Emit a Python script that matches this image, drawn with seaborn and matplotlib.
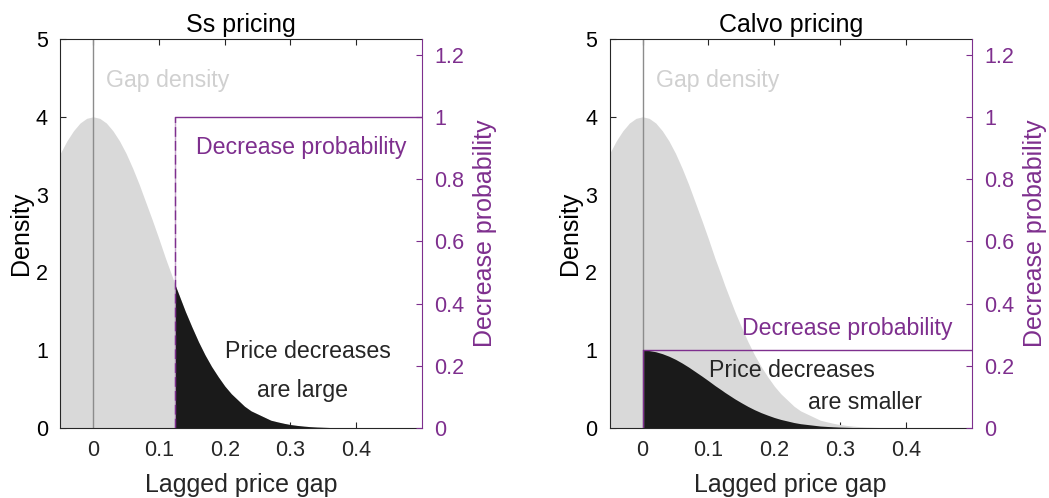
import numpy as np
import pandas as pd
import seaborn as sns
import matplotlib.pyplot as plt
import matplotlib.ticker as ticker

# values
gap = [-0.05, -0.04, -0.03, -0.02, -0.01, 0.0, 0.01, 0.02, 0.03, 0.04, 0.05,
       0.06, 0.07, 0.08, 0.09, 0.10, 0.11, 0.12, 0.125, 0.13, 0.14, 0.15,
       0.16, 0.17, 0.18, 0.19, 0.20, 0.21, 0.22, 0.23, 0.24, 0.25, 0.26,
       0.27, 0.28, 0.29, 0.30, 0.31, 0.32, 0.33, 0.34, 0.35, 0.36, 0.37,
       0.38, 0.39, 0.40, 0.45, 0.5]
density = [3.53, 3.69, 3.82, 3.92, 3.98, 4.0, 3.98, 3.92, 3.82, 3.69, 3.53,
           3.34, 3.13, 2.90, 2.67, 2.43, 2.18, 1.95, 1.83, 1.72, 1.50, 1.30,
           1.11, 0.94, 0.79, 0.66, 0.54, 0.44, 0.36, 0.28, 0.22, 0.18, 0.14,
           0.10, 0.079, 0.060, 0.044, 0.033, 0.024, 0.017, 0.012, 0.009, 0.006, 0.004,
           0.003, 0.002, 0.001, 0.0, 0.0]
ss_threshold = 0.125
ss_prob = 1.0
calvo_start = 0.0
calvo_prob = 0.25
titles = ['Ss pricing', 'Calvo pricing']

df = pd.DataFrame({'gap': gap, 'density': density})

PURPLE = '#7E2F8E'
GREY_FILL = '#d9d9d9'
DARK = '#262626'
TXT = 16.7

sns.set_style('white')
plt.rcParams['font.family'] = ['Liberation Sans', 'DejaVu Sans']

fig = plt.figure(figsize=(10.49, 4.98), dpi=100)
axes = [fig.add_axes([0.0575, 0.1406, 0.3448, 0.7811]),
        fig.add_axes([0.5812, 0.1406, 0.3451, 0.7811])]

for i, ax in enumerate(axes):
    x = df['gap'].values
    y = df['density'].values
    ax.fill_between(x, 0, y, color=GREY_FILL, lw=0)
    if i == 0:
        m = x >= ss_threshold
        ax.fill_between(x[m], 0, y[m], color='#1a1a1a', lw=0)
    else:
        m = x >= calvo_start
        ax.fill_between(x[m], 0, y[m] * calvo_prob / ss_prob, color='#1a1a1a', lw=0)
    ax.axvline(0, color='#8c8c8c', lw=1, zorder=1)

    ax.set_xlim(-0.05, 0.5)
    ax.set_ylim(0, 5)
    ax.xaxis.set_major_locator(ticker.FixedLocator([0, 0.1, 0.2, 0.3, 0.4]))
    ax.xaxis.set_major_formatter(ticker.FormatStrFormatter('%g'))
    ax.yaxis.set_major_locator(ticker.MultipleLocator(1))
    ax.tick_params(direction='in', length=4, width=0.8, colors=DARK, labelsize=15.5,
                   top=True, bottom=True, left=True, right=False, pad=9)
    for s in ['left', 'bottom', 'top']:
        ax.spines[s].set_color(DARK)
        ax.spines[s].set_linewidth(0.8)
    ax.spines['right'].set_visible(False)
    ax.set_xlabel('Lagged price gap', fontsize=18, color=DARK, labelpad=8)
    ax.set_ylabel('Density', fontsize=18, color='black', labelpad=2)
    ax.set_title(titles[i], fontsize=18, color='black', pad=5)
    for lab in ax.get_xticklabels():
        lab.set_color(DARK)
    for lab in ax.get_yticklabels():
        lab.set_color('black')

    ax2 = ax.twinx()
    ax2.set_ylim(0, 1.25)
    ax2.yaxis.set_major_locator(ticker.FixedLocator([0, 0.2, 0.4, 0.6, 0.8, 1.0, 1.2]))
    ax2.yaxis.set_major_formatter(ticker.FormatStrFormatter('%g'))
    ax2.tick_params(axis='y', direction='in', length=4, width=0.8, colors=PURPLE,
                    labelsize=15.5, pad=9)
    for s in ['left', 'bottom', 'top']:
        ax2.spines[s].set_visible(False)
    ax2.spines['right'].set_color(PURPLE)
    ax2.spines['right'].set_linewidth(0.8)
    ax2.set_ylabel('Decrease probability', fontsize=18, color=PURPLE, labelpad=6)

    if i == 0:
        line = pd.DataFrame({'gap': [ss_threshold, 0.5], 'prob': [ss_prob, ss_prob]})
        sns.lineplot(data=line, x='gap', y='prob', ax=ax2, color=PURPLE, lw=1)
        ax2.plot([ss_threshold, ss_threshold], [0, ss_prob], color=PURPLE, lw=1,
                 alpha=0.45)
        ax2.plot([ss_threshold, ss_threshold], [0, ss_prob], color=PURPLE, lw=1,
                 ls=(0, (7, 3)))
        ax2.text(0.156, 0.9, 'Decrease probability', color=PURPLE, fontsize=TXT,
                 ha='left', va='center')
        ax.text(0.327, 0.98, 'Price decreases', fontsize=TXT, ha='center', va='center')
        ax.text(0.319, 0.48, 'are large', fontsize=TXT, ha='center', va='center')
    else:
        line = pd.DataFrame({'gap': [calvo_start, 0.5], 'prob': [calvo_prob, calvo_prob]})
        sns.lineplot(data=line, x='gap', y='prob', ax=ax2, color=PURPLE, lw=1)
        ax2.plot([calvo_start, calvo_start], [0, calvo_prob], color=PURPLE, lw=1)
        ax.text(0.151, 1.28, 'Decrease probability', color=PURPLE, fontsize=TXT,
                ha='left', va='center')
        ax.text(0.101, 0.74, 'Price decreases', fontsize=TXT, ha='left', va='center')
        ax.text(0.251, 0.33, 'are smaller', fontsize=TXT, ha='left', va='center')
    ax2.set_xlabel('')
    ax.text(0.02, 4.47, 'Gap density', color='#d0d0d0', fontsize=TXT,
            ha='left', va='center')

fig.savefig('out.png', dpi=100)
